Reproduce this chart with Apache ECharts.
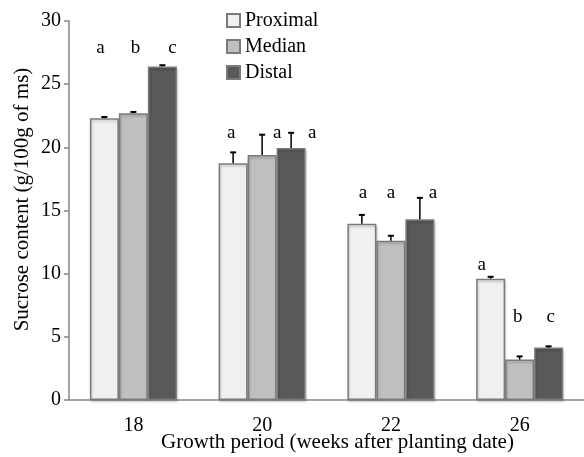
<!DOCTYPE html>
<html><head><meta charset="utf-8">
<script src="https://cdn.jsdelivr.net/npm/echarts@6/dist/echarts.min.js"></script>
<style>html,body{margin:0;padding:0;background:#fff}#c{width:584px;height:457px}</style>
</head><body><div id="c"></div><script>
// ---- data ----
const categories = ['18', '20', '22', '26'];
const seriesNames = ['Proximal', 'Median', 'Distal'];
const proximal = [22.3, 18.75, 13.95, 9.6];
const median = [22.7, 19.4, 12.6, 3.2];
const distal = [26.4, 19.95, 14.3, 4.15];
const proximalErr = [0.1, 0.85, 0.7, 0.15];
const medianErr = [0.1, 1.6, 0.4, 0.25];
const distalErr = [0.1, 1.2, 1.7, 0.1];
const proximalLetters = ['a', 'a', 'a', 'a'];
const medianLetters = ['b', 'a', 'a', 'b'];
const distalLetters = ['c', 'a', 'a', 'c'];
const proximalLetterY = [27.9, 21.1, 16.4, 10.7];
const medianLetterY = [27.9, 21.1, 16.4, 6.6];
const distalLetterY = [27.9, 21.1, 16.4, 6.6];
const yTicks = [0, 5, 10, 15, 20, 25, 30];

// ---- layout / style ----
const BAR_W = 29;
const CAP = 3;
const FONT = '"Liberation Serif", "Times New Roman", serif';
const letterDx = [[-4, -2, 1, -9], [2, 15, 0, -2], [10, 21, 13, 2]];
const fills = ['#f0f0f0', '#bfbfbf', '#595959'];
const vals = [proximal, median, distal];
const errs = [proximalErr, medianErr, distalErr];
const letters = [proximalLetters, medianLetters, distalLetters];
const letterY = [proximalLetterY, medianLetterY, distalLetterY];

const chart = echarts.init(document.getElementById('c'));

const series = [];
seriesNames.forEach((name, s) => {
  series.push({
    name: name, type: 'bar', barWidth: BAR_W, barGap: '0%',
    data: vals[s],
    itemStyle: { color: fills[s], borderColor: '#7a7a7a', borderWidth: 1.5,
      shadowColor: 'rgba(0,0,0,0.18)', shadowBlur: 2, shadowOffsetY: 2, shadowOffsetX: 1 },
    z: 2
  });
});
seriesNames.forEach((name, s) => {
  series.push({
    type: 'custom', z: 5, silent: true,
    data: categories.map((c, i) => [i, vals[s][i], errs[s][i]]),
    encode: { x: 0, y: 1 },
    renderItem: function (params, api) {
      const i = api.value(0), v = api.value(1), e = api.value(2);
      const b = api.coord([i, v]);
      const t = api.coord([i, v + e]);
      const x = b[0] + (s - 1) * BAR_W;
      return { type: 'group', children: [
        { type: 'line', shape: { x1: x, y1: b[1], x2: x, y2: t[1] }, style: { stroke: '#000', lineWidth: 1.5 } },
        { type: 'line', shape: { x1: x - CAP, y1: t[1], x2: x + CAP, y2: t[1] }, style: { stroke: '#000', lineWidth: 2 } }
      ]};
    }
  });
  series.push({
    type: 'custom', z: 6, silent: true,
    data: categories.map((c, i) => [i, letterY[s][i], letters[s][i]]),
    encode: { x: 0, y: 1 },
    renderItem: function (params, api) {
      const i = params.dataIndex;
      const p = api.coord([api.value(0), api.value(1)]);
      const x = p[0] + (s - 1) * BAR_W + letterDx[s][i];
      return { type: 'text', style: { x: x, y: p[1], text: letters[s][i], fill: '#000',
        font: '19px ' + FONT, textAlign: 'center', textVerticalAlign: 'middle' } };
    }
  });
});

chart.setOption({
  animation: false,
  backgroundColor: '#fff',
  grid: { left: 69, right: 0, top: 21, bottom: 57, containLabel: false, outerBoundsMode: 'none' },
  legend: {
    data: seriesNames, orient: 'vertical', left: 221, top: 5,
    itemWidth: 13, itemHeight: 13, itemGap: 5, icon: 'rect',
    textStyle: { fontFamily: FONT, fontSize: 20, lineHeight: 21, color: '#000' }
  },
  xAxis: {
    type: 'category', data: categories,
    axisLine: { lineStyle: { color: '#868686', width: 1.5 } },
    axisTick: { show: false },
    axisLabel: { fontFamily: FONT, fontSize: 20, color: '#000', margin: 16 },
    name: 'Growth period (weeks after planting date)', nameLocation: 'middle', nameGap: 32,
    nameMoveOverlap: false,
    nameTextStyle: { fontFamily: FONT, fontSize: 21, color: '#000', padding: [0, 0, 0, 22] }
  },
  yAxis: {
    type: 'value', min: yTicks[0], max: yTicks[yTicks.length - 1], interval: 5,
    axisLine: { show: true, lineStyle: { color: '#868686', width: 1.5 } },
    axisTick: { show: true, length: 5, lineStyle: { color: '#868686', width: 1.5 } },
    splitLine: { show: false },
    axisLabel: { fontFamily: FONT, fontSize: 20, color: '#000', margin: 8 },
    name: 'Sucrose content (g/100g of ms)', nameLocation: 'middle', nameGap: 36,
    nameMoveOverlap: false,
    nameTextStyle: { fontFamily: FONT, fontSize: 21, color: '#000', padding: [0, 0, 0, 22] }
  },
  series: series
});
</script></body></html>
